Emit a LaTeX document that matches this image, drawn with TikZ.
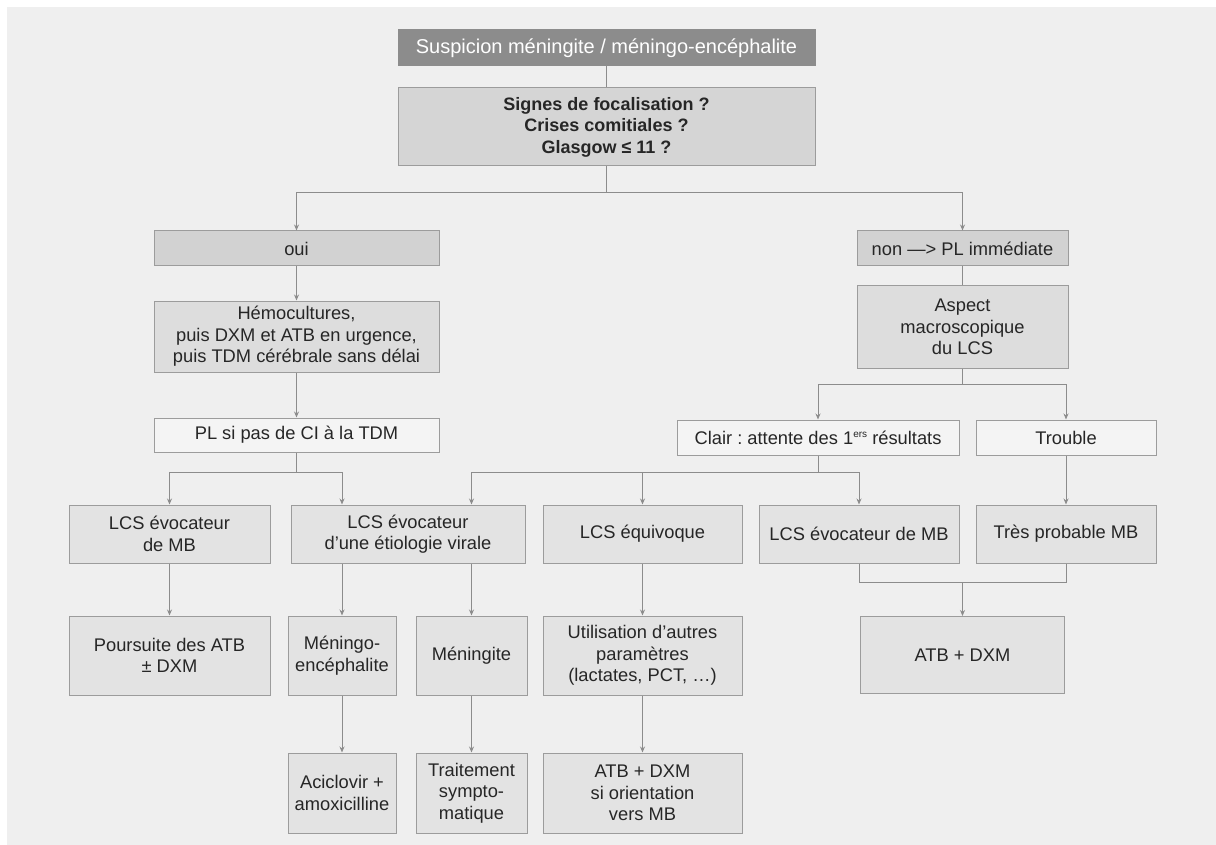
\documentclass[tikz,border=0pt]{standalone}
\usepackage{fontspec}
\setmainfont{Liberation Sans}
\usetikzlibrary{arrows.meta}
\frenchspacing
\definecolor{bgc}{HTML}{EFEFEF}
\definecolor{titlefill}{HTML}{8C8C8C}
\definecolor{qfill}{HTML}{D5D5D5}
\definecolor{yesfill}{HTML}{D2D2D2}
\definecolor{midfill}{HTML}{DDDDDD}
\definecolor{lightfill}{HTML}{F4F4F4}
\definecolor{rowfill}{HTML}{E3E3E3}
\definecolor{edgec}{HTML}{9C9C9C}
\definecolor{linec}{HTML}{8C8C8C}
\tikzset{
  box/.style={draw=edgec, line width=1pt, inner sep=0pt, align=center, font=\fontsize{18.3}{21.5}\selectfont, text=black!85},
  conn/.style={draw=linec, line width=1pt},
  arr/.style={conn, -{Stealth[length=6pt,width=5pt]}},
}
\begin{document}
\begin{tikzpicture}[x=1pt,y=-1pt]
\useasboundingbox (0,0) rectangle (1216,845);
\fill[white] (0,0) rectangle (1216,845);
\fill[bgc] (7,7) rectangle (1216,845);

\node[box, fill=titlefill, draw=titlefill, text=white, font=\fontsize{20}{22}\selectfont, minimum width=417pt, minimum height=36pt] (title) at (606.5,48) {Suspicion méningite / méningo-encéphalite};
\node[box, fill=qfill, font=\bfseries\fontsize{18}{21.5}\selectfont, minimum width=417pt, minimum height=78pt] (q) at (606.5,127) {Signes de focalisation ?\\Crises comitiales ?\\Glasgow ≤ 11 ?};

\node[box, fill=yesfill, minimum width=285pt, minimum height=35pt] (oui) at (296.5,248.5) {oui};
\node[box, fill=yesfill, minimum width=211pt, minimum height=35pt] (non) at (962.5,248.5) {non —> PL immédiate};

\node[box, fill=midfill, minimum width=285pt, minimum height=71pt] (hemo) at (296.5,336.5) {Hémocultures,\\puis DXM et ATB en urgence,\\puis TDM cérébrale sans délai};
\node[box, fill=midfill, minimum width=211pt, minimum height=82pt] (aspect) at (962.5,327) {Aspect\\macroscopique\\du LCS};

\node[box, fill=lightfill, minimum width=285pt, minimum height=34pt] (pl) at (296.5,435) {PL si pas de CI à la TDM};
\node[box, fill=lightfill, minimum width=282pt, minimum height=35pt] (clair) at (818,437.5) {Clair : attente des 1\raisebox{0.7ex}{\fontsize{10}{10}\selectfont ers} résultats};
\node[box, fill=lightfill, minimum width=180pt, minimum height=35pt] (trouble) at (1066,437.5) {Trouble};

\node[box, fill=rowfill, minimum width=201pt, minimum height=58pt] (a2) at (169.5,534) {LCS évocateur\\de MB};
\node[box, fill=rowfill, minimum width=234pt, minimum height=58pt] (b2) at (408,534) {LCS évocateur\\d’une étiologie virale};
\node[box, fill=rowfill, minimum width=199pt, minimum height=58pt] (c2) at (642.5,534) {LCS équivoque};
\node[box, fill=rowfill, minimum width=200pt, minimum height=58pt] (d2) at (859,534) {LCS évocateur de MB};
\node[box, fill=rowfill, minimum width=180pt, minimum height=58pt] (e2) at (1066,534) {Très probable MB};

\node[box, fill=rowfill, minimum width=201pt, minimum height=79pt] (a3) at (169.5,655.5) {Poursuite des ATB\\± DXM};
\node[box, fill=rowfill, minimum width=108pt, minimum height=79pt] (b3a) at (342,655.5) {Méningo-\\encéphalite};
\node[box, fill=rowfill, minimum width=111pt, minimum height=79pt] (b3b) at (471.5,655.5) {Méningite};
\node[box, fill=rowfill, minimum width=199pt, minimum height=79pt] (c3) at (642.5,655.5) {Utilisation d’autres\\paramètres\\(lactates, PCT, …)};
\node[box, fill=rowfill, minimum width=204pt, minimum height=77pt] (d3) at (962.5,655) {ATB + DXM};

\node[box, fill=rowfill, minimum width=108pt, minimum height=80pt] (b4a) at (342,793) {Aciclovir +\\amoxicilline};
\node[box, fill=rowfill, minimum width=111pt, minimum height=80pt] (b4b) at (471.5,793) {Traitement\\sympto-\\matique};
\node[box, fill=rowfill, minimum width=199pt, minimum height=80pt] (c4) at (642.5,793) {ATB + DXM\\si orientation\\vers MB};

\coordinate (j1) at (606.5,193);
\coordinate (j2) at (962.5,384);
\coordinate (j3) at (296.5,472);
\coordinate (j4) at (818,472);
\coordinate (j5) at (962.5,582);

\draw[conn] (title) -- (q);
\draw[conn] (q.south) -- (j1);
\draw[arr] (j1) -| (oui.north);
\draw[arr] (j1) -| (non.north);
\draw[arr] (oui) -- (hemo);
\draw[conn] (non) -- (aspect);
\draw[arr] (hemo) -- (pl);
\draw[conn] (aspect.south) -- (j2);
\draw[arr] (j2) -| (clair.north);
\draw[arr] (j2) -| (trouble.north);
\draw[conn] (pl.south) -- (j3);
\draw[arr] (j3) -| (a2.north);
\draw[arr] (j3) -| (b3a.north |- b2.north);
\draw[conn] (clair.south) -- (j4);
\draw[arr] (j4) -| (b3b.north |- b2.north);
\draw[arr] (j4) -| (c2.north);
\draw[arr] (j4) -| (d2.north);
\draw[arr] (trouble) -- (e2);
\draw[arr] (a2) -- (a3);
\draw[arr] (b2.south -| b3a.north) -- (b3a.north);
\draw[arr] (b2.south -| b3b.north) -- (b3b.north);
\draw[arr] (c2) -- (c3);
\draw[conn] (d2.south) |- (j5);
\draw[conn] (e2.south) |- (j5);
\draw[arr] (j5) -- (d3);
\draw[arr] (b3a) -- (b4a);
\draw[arr] (b3b) -- (b4b);
\draw[arr] (c3) -- (c4);
\end{tikzpicture}
\end{document}
